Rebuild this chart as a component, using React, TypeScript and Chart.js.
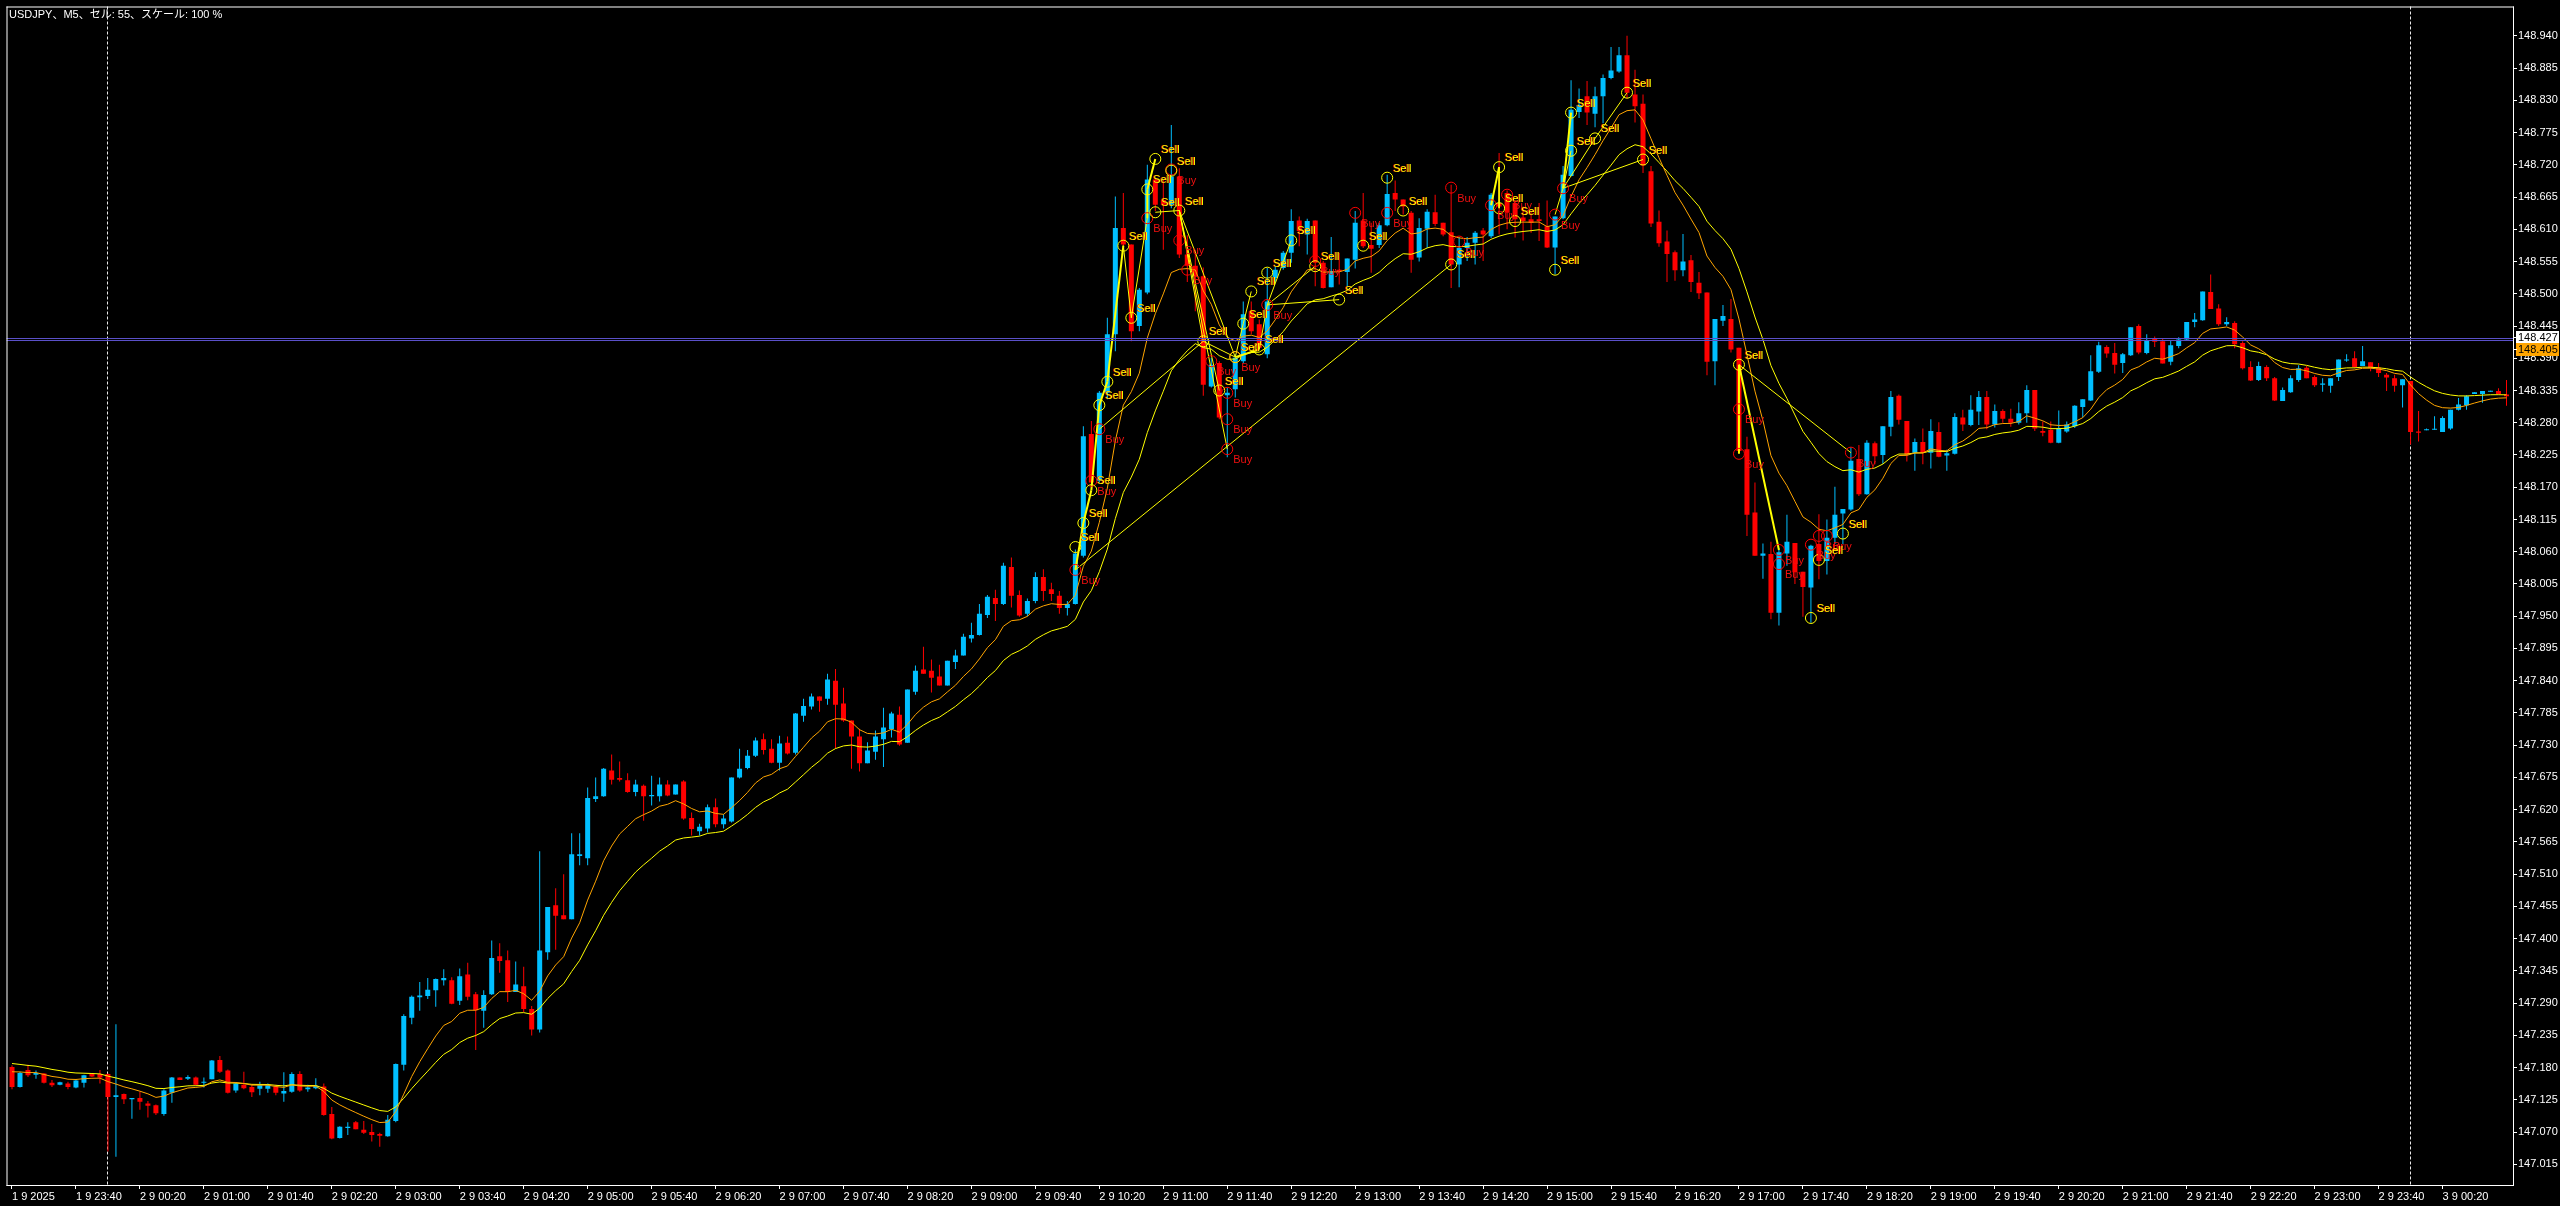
import { useEffect, useRef } from 'react';
import { Chart, registerables } from 'chart.js';

Chart.register(...registerables);

const W = 2560;
const H = 1206;
const TITLE = 'USDJPY、M5、セル: 55、スケール: 100 %';
const FONT = '"Liberation Sans", Arial, "Noto Sans CJK JP", sans-serif';

// M5 bars from 1 9 23:00 (bar 0) to 3 9 01:00 (bar 312)
const opens = [
  147.181,147.147,147.176,147.168,147.170,147.154,147.151,147.153,147.146,147.154,
  147.169,147.169,147.169,147.130,147.135,147.126,147.128,147.119,147.116,147.101,
  147.137,147.163,147.161,147.163,147.154,147.160,147.193,147.175,147.141,147.151,
  147.147,147.144,147.144,147.148,147.136,147.139,147.169,147.143,147.145,147.148,
  147.101,147.060,147.077,147.087,147.074,147.070,147.067,147.063,147.089,147.185,
  147.265,147.300,147.302,147.312,147.329,147.329,147.294,147.339,147.305,147.277,
  147.305,147.370,147.363,147.309,147.319,147.280,147.245,147.377,147.457,147.440,
  147.433,147.541,147.537,147.638,147.643,147.687,147.674,147.670,147.650,147.661,
  147.643,147.643,147.663,147.646,147.668,147.606,147.583,147.588,147.624,147.595,
  147.600,147.675,147.691,147.712,147.740,147.724,147.700,147.734,147.717,147.780,
  147.796,147.813,147.809,147.840,147.801,147.772,147.745,147.699,147.719,147.740,
  147.757,147.782,147.734,147.821,147.859,147.857,147.847,147.832,147.872,147.883,
  147.912,147.918,147.952,147.981,147.971,148.034,147.986,147.954,147.976,148.017,
  147.996,147.985,147.964,147.971,148.053,148.261,148.181,148.331,148.431,148.612,
  148.584,148.445,148.502,148.695,148.660,148.652,148.700,148.567,148.548,148.530,
  148.342,148.382,148.327,148.337,148.385,148.470,148.448,148.397,148.527,148.544,
  148.570,148.625,148.601,148.625,148.553,148.511,148.541,148.537,148.558,148.625,
  148.583,148.583,148.617,148.672,148.661,148.638,148.562,148.611,148.639,148.621,
  148.605,148.550,148.578,148.587,148.608,148.598,148.655,148.672,148.655,148.630,
  148.627,148.627,148.615,148.579,148.629,148.701,148.810,148.837,148.807,148.837,
  148.868,148.879,148.907,148.840,148.824,148.709,148.623,148.589,148.571,148.540,
  148.557,148.519,148.502,148.385,148.454,148.457,148.408,148.235,148.127,148.053,
  148.056,147.956,148.057,148.075,148.026,147.999,148.073,148.044,148.084,148.125,
  148.132,148.218,148.158,148.245,148.225,148.273,148.326,148.283,148.229,148.247,
  148.229,148.264,148.224,148.227,148.289,148.276,148.299,148.324,148.277,148.300,
  148.287,148.280,148.296,148.336,148.266,148.268,148.246,148.265,148.274,148.307,
  148.318,148.367,148.409,148.399,148.382,148.395,148.445,148.399,148.423,148.419,
  148.384,148.411,148.422,148.452,148.455,148.503,148.475,148.448,148.450,148.416,
  148.375,148.353,148.375,148.356,148.317,148.332,148.353,148.374,148.358,148.345,
  148.343,148.358,148.386,148.390,148.377,148.383,148.374,148.362,148.356,148.344,
  148.351,148.265,148.267,148.268,148.264,148.270,148.302,148.310,148.329,148.329,
  148.333,148.334,148.328,
];

const highs = [
  147.184,147.173,147.185,147.175,147.171,147.159,147.156,147.156,147.160,147.168,
  147.170,147.176,147.170,147.254,147.136,147.128,147.139,147.123,147.117,147.143,
  147.164,147.163,147.167,147.165,147.163,147.193,147.200,147.177,147.154,147.173,
  147.151,147.156,147.153,147.151,147.172,147.172,147.174,147.151,147.162,147.153,
  147.113,147.080,147.087,147.089,147.089,147.084,147.069,147.099,147.187,147.271,
  147.303,147.326,147.333,147.332,147.348,147.334,147.349,147.359,147.309,147.312,
  147.397,147.392,147.380,147.361,147.352,147.285,147.549,147.454,147.486,147.510,
  147.580,147.580,147.658,147.675,147.691,147.714,147.702,147.682,147.671,147.663,
  147.678,147.675,147.670,147.663,147.670,147.615,147.596,147.629,147.639,147.612,
  147.675,147.724,147.722,147.743,147.750,147.740,147.746,147.745,147.785,147.809,
  147.818,147.813,147.852,147.860,147.828,147.772,147.758,147.735,147.755,147.794,
  147.787,147.796,147.825,147.866,147.898,147.876,147.867,147.874,147.893,147.920,
  147.939,147.971,147.986,147.995,148.041,148.050,147.994,147.980,148.025,148.030,
  148.007,147.993,147.976,148.064,148.274,148.283,148.334,148.459,148.666,148.672,
  148.584,148.510,148.720,148.697,148.694,148.788,148.714,148.600,148.575,148.545,
  148.391,148.385,148.340,148.397,148.487,148.487,148.456,148.544,148.547,148.573,
  148.644,148.632,148.628,148.625,148.556,148.597,148.570,148.560,148.641,148.672,
  148.621,148.621,148.703,148.693,148.661,148.641,148.629,148.644,148.669,148.621,
  148.686,148.597,148.597,148.607,148.612,148.672,148.740,148.676,148.660,148.649,
  148.641,148.655,148.659,148.632,148.718,148.864,148.850,148.863,148.853,148.874,
  148.921,148.921,148.940,148.882,148.840,148.718,148.642,148.608,148.574,148.602,
  148.566,148.537,148.502,148.457,148.481,148.491,148.408,148.256,148.178,148.074,
  148.077,148.066,148.123,148.075,148.026,148.072,148.124,148.115,148.171,148.133,
  148.238,148.242,148.250,148.248,148.274,148.334,148.328,148.283,148.253,148.270,
  148.286,148.281,148.234,148.296,148.302,148.327,148.334,148.334,148.311,148.303,
  148.304,148.315,148.344,148.336,148.282,148.282,148.301,148.282,148.310,148.320,
  148.395,148.418,148.412,148.416,148.399,148.443,148.448,148.431,148.427,148.424,
  148.421,148.426,148.452,148.467,148.504,148.533,148.482,148.460,148.453,148.419,
  148.385,148.384,148.378,148.358,148.340,148.361,148.378,148.377,148.361,148.356,
  148.356,148.388,148.397,148.402,148.411,148.383,148.382,148.365,148.362,148.354,
  148.351,148.300,148.270,148.291,148.291,148.302,148.322,148.327,148.332,148.334,
  148.334,148.339,148.353,
];

const lows = [
  147.143,147.146,147.164,147.161,147.153,147.147,147.150,147.143,147.145,147.146,
  147.164,147.153,147.037,147.028,147.118,147.093,147.108,147.095,147.099,147.098,
  147.120,147.159,147.159,147.150,147.146,147.160,147.171,147.136,147.137,147.143,
  147.130,147.133,147.137,147.133,147.122,147.137,147.139,147.139,147.143,147.098,
  147.058,147.059,147.065,147.075,147.067,147.054,147.045,147.062,147.087,147.175,
  147.254,147.277,147.297,147.284,147.320,147.288,147.287,147.295,147.210,147.248,
  147.304,147.342,147.292,147.309,147.275,147.235,147.240,147.364,147.381,147.433,
  147.433,147.525,147.525,147.633,147.642,147.663,147.668,147.649,147.643,147.601,
  147.627,147.634,147.643,147.646,147.603,147.576,147.576,147.581,147.590,147.588,
  147.598,147.673,147.689,147.710,147.714,147.699,147.687,147.714,147.714,147.770,
  147.791,147.787,147.799,147.724,147.770,147.690,147.685,147.699,147.705,147.693,
  147.743,147.729,147.734,147.816,147.852,147.820,147.832,147.832,147.860,147.883,
  147.905,147.917,147.947,147.942,147.969,147.965,147.949,147.950,147.972,147.976,
  147.976,147.954,147.951,147.970,148.050,148.175,148.178,148.320,148.402,148.581,
  148.419,148.436,148.499,148.641,148.575,148.646,148.561,148.520,148.470,148.326,
  148.340,148.286,148.221,148.323,148.382,148.431,148.405,148.390,148.520,148.541,
  148.553,148.581,148.567,148.513,148.509,148.511,148.516,148.513,148.543,148.578,
  148.536,148.578,148.615,148.641,148.635,148.536,148.555,148.578,148.615,148.598,
  148.510,148.511,148.556,148.550,148.556,148.595,148.601,148.610,148.596,148.591,
  148.604,148.590,148.578,148.533,148.627,148.700,148.800,148.788,148.784,148.791,
  148.866,148.877,148.833,148.792,148.706,148.614,148.580,148.520,148.522,148.530,
  148.503,148.491,148.361,148.344,148.445,148.400,148.230,148.087,148.053,148.014,
  147.945,147.934,148.036,148.005,147.949,147.939,148.013,148.021,148.073,148.073,
  148.130,148.155,148.157,148.209,148.210,148.257,148.277,148.214,148.198,148.209,
  148.202,148.221,148.198,148.226,148.266,148.274,148.276,148.269,148.272,148.280,
  148.273,148.277,148.280,148.266,148.257,148.245,148.245,148.263,148.271,148.289,
  148.317,148.365,148.391,148.364,148.365,148.394,148.397,148.397,148.409,148.381,
  148.378,148.407,148.421,148.443,148.454,148.474,148.445,148.445,148.407,148.371,
  148.351,148.351,148.351,148.317,148.317,148.331,148.350,148.356,148.341,148.333,
  148.331,148.351,148.384,148.373,148.377,148.368,148.358,148.334,148.333,148.306,
  148.243,148.248,148.267,148.268,148.264,148.268,148.301,148.302,148.329,148.314,
  148.333,148.328,148.309,
];

const closes = [
  147.147,147.171,147.167,147.171,147.154,147.150,147.155,147.147,147.158,147.167,
  147.165,147.163,147.130,147.133,147.126,147.128,147.122,147.115,147.102,147.141,
  147.163,147.159,147.164,147.151,147.155,147.192,147.173,147.137,147.153,147.145,
  147.138,147.150,147.150,147.137,147.140,147.169,147.141,147.146,147.149,147.099,
  147.059,147.079,147.079,147.075,147.069,147.065,147.064,147.091,147.186,147.268,
  147.301,147.303,147.313,147.331,147.333,147.289,147.336,147.301,147.278,147.304,
  147.367,147.362,147.309,147.322,147.280,147.245,147.380,147.454,147.439,147.433,
  147.544,147.544,147.640,147.643,147.690,147.671,147.671,147.650,147.663,147.643,
  147.645,147.663,147.644,147.663,147.605,147.587,147.591,147.624,147.595,147.605,
  147.675,147.690,147.712,147.738,147.722,147.700,147.733,147.716,147.784,147.797,
  147.813,147.806,147.842,147.799,147.772,147.745,147.699,147.721,147.745,147.760,
  147.784,147.731,147.825,147.857,147.852,147.845,147.832,147.874,147.883,147.915,
  147.918,147.954,147.983,147.971,148.036,147.985,147.951,147.976,148.017,147.993,
  147.988,147.964,147.971,148.057,148.257,148.178,148.331,148.431,148.612,148.584,
  148.436,148.507,148.695,148.652,148.652,148.700,148.567,148.548,148.530,148.345,
  148.379,148.289,148.331,148.391,148.465,148.436,148.408,148.487,148.541,148.570,
  148.624,148.607,148.624,148.553,148.510,148.539,148.538,148.560,148.621,148.581,
  148.577,148.617,148.670,148.661,148.649,148.558,148.612,148.640,148.619,148.601,
  148.550,148.578,148.587,148.604,148.601,148.669,148.649,148.638,148.627,148.624,
  148.621,148.624,148.579,148.632,148.703,148.814,148.822,148.809,148.837,148.868,
  148.881,148.907,148.843,148.820,148.719,148.620,148.586,148.568,148.540,148.555,
  148.520,148.501,148.384,148.457,148.462,148.405,148.232,148.123,148.053,148.057,
  147.956,148.059,148.077,148.025,148.000,148.070,148.044,148.084,148.123,148.133,
  148.215,148.158,148.246,148.223,148.274,148.324,148.285,148.226,148.247,148.229,
  148.266,148.222,148.228,148.290,148.277,148.302,148.324,148.277,148.300,148.287,
  148.280,148.296,148.336,148.270,148.263,148.246,148.270,148.277,148.309,148.320,
  148.368,148.412,148.398,148.379,148.397,148.443,148.400,148.421,148.418,148.381,
  148.412,148.422,148.452,148.456,148.504,148.474,148.448,148.452,148.414,148.373,
  148.352,148.377,148.356,148.318,148.336,148.356,148.373,148.356,148.344,148.347,
  148.356,148.388,148.387,148.375,148.385,148.374,148.365,148.357,148.343,148.354,
  148.264,148.263,148.269,148.269,148.288,148.302,148.311,148.325,148.332,148.334,
  148.334,148.329,148.325,
];

const xTickBars = [
  0, 8, 16, 24, 32, 40, 48, 56, 64, 72, 80, 88, 96, 104, 112, 120, 128, 136, 144, 152,
  160, 168, 176, 184, 192, 200, 208, 216, 224, 232, 240, 248, 256, 264, 272, 280, 288, 296, 304,
];
const xTickLabels = [
  '1 9 2025', '1 9 23:40', '2 9 00:20', '2 9 01:00', '2 9 01:40', '2 9 02:20', '2 9 03:00',
  '2 9 03:40', '2 9 04:20', '2 9 05:00', '2 9 05:40', '2 9 06:20', '2 9 07:00', '2 9 07:40',
  '2 9 08:20', '2 9 09:00', '2 9 09:40', '2 9 10:20', '2 9 11:00', '2 9 11:40', '2 9 12:20',
  '2 9 13:00', '2 9 13:40', '2 9 14:20', '2 9 15:00', '2 9 15:40', '2 9 16:20', '2 9 17:00',
  '2 9 17:40', '2 9 18:20', '2 9 19:00', '2 9 19:40', '2 9 20:20', '2 9 21:00', '2 9 21:40',
  '2 9 22:20', '2 9 23:00', '2 9 23:40', '3 9 00:20',
];

const priceTicks = [
  148.940, 148.885, 148.830, 148.775, 148.720, 148.665, 148.610, 148.555, 148.500, 148.445,
  148.390, 148.335, 148.280, 148.225, 148.170, 148.115, 148.060, 148.005, 147.950, 147.895,
  147.840, 147.785, 147.730, 147.675, 147.620, 147.565, 147.510, 147.455, 147.400, 147.345,
  147.290, 147.235, 147.180, 147.125, 147.070, 147.015,
];

const priceMin = 146.9798;
const priceMax = 148.99;
const barMin = -0.6875;
const barMax = 312.8125;

const sepBars = [12, 300];
const hLinePrice = 148.427;
const askPrice = 148.405;

// moving averages (exponential, seeded with the values shown at bar 0)
const fastPeriod = 10;
const slowPeriod = 20;
const fastSeed = 147.173;
const slowSeed = 147.187;

// Sell / Buy signal marks
const sigBars = [
  133, 133, 134, 135, 135, 136, 136, 137, 139, 140, 142, 142, 143, 143, 145, 145, 146, 146, 147, 149,
  150, 151, 152, 152, 152, 153, 153, 154, 155, 156, 157, 157, 160,
  163, 163, 166, 168, 169, 172, 172, 174, 180, 180, 181, 185, 186, 186, 187, 188, 193, 193, 194,
  195, 195, 198, 202, 204, 216, 216, 216, 221, 221,
  225, 225, 226, 227, 226, 229, 230,
];
const sigPrices = [
  148.068, 148.029, 148.109, 148.165, 148.181, 148.310, 148.269, 148.350, 148.582, 148.459,
  148.678, 148.629, 148.730, 148.639, 148.710, 148.712, 148.642, 148.591, 148.541, 148.419,
  148.385, 148.335, 148.331, 148.286, 148.235, 148.392, 148.392, 148.449, 148.504, 148.405,
  148.481, 148.536, 148.591,
  148.547, 148.556, 148.490, 148.638, 148.582, 148.638, 148.698, 148.642, 148.681, 148.550,
  148.589, 148.651, 148.716, 148.646, 148.669, 148.624, 148.635, 148.541, 148.680,
  148.809, 148.744, 148.765, 148.843, 148.729, 148.379, 148.303, 148.227, 148.063, 148.039,
  148.072, 147.947, 148.087, 148.087, 148.046, 148.091, 148.229,
];
const sigKinds = [
  'S', 'B', 'S', 'S', 'B', 'S', 'B', 'S', 'S', 'S', 'S', 'B', 'S', 'S', 'S', 'B', 'S', 'B', 'B', 'S',
  'B', 'S', 'B', 'B', 'B', 'S', 'B', 'S', 'S', 'S', 'B', 'S', 'S',
  'S', 'B', 'S', 'B', 'S', 'B', 'S', 'S', 'B', 'S', 'B', 'B', 'S', 'S', 'B', 'S', 'B', 'S', 'B',
  'S', 'S', 'S', 'S', 'S', 'S', 'B', 'B', 'B', 'B',
  'B', 'S', 'B', 'B', 'S', 'S', 'B',
];

// signal connecting lines: [fromBar, fromPrice, toBar, toPrice, width]
const sigLines: [number, number, number, number, number][] = [
  [133, 148.029, 180, 148.550, 1],
  [136, 148.269, 149, 148.419, 1],
  [133, 148.029, 134, 148.109, 2],
  [134, 148.109, 135, 148.165, 2],
  [135, 148.165, 136, 148.310, 2],
  [136, 148.310, 137, 148.350, 2],
  [137, 148.350, 139, 148.582, 2],
  [139, 148.582, 140, 148.459, 1],
  [140, 148.459, 142, 148.629, 1],
  [142, 148.629, 142, 148.678, 2],
  [142, 148.678, 143, 148.730, 2],
  [143, 148.639, 146, 148.642, 1],
  [146, 148.642, 149, 148.419, 1],
  [146, 148.642, 151, 148.335, 1],
  [146, 148.642, 153, 148.392, 1],
  [146, 148.642, 152, 148.235, 1],
  [149, 148.419, 153, 148.392, 1],
  [153, 148.392, 156, 148.405, 2],
  [153, 148.392, 154, 148.449, 1],
  [154, 148.449, 155, 148.504, 1],
  [156, 148.405, 157, 148.481, 1],
  [157, 148.481, 160, 148.591, 1],
  [157, 148.481, 163, 148.547, 1],
  [157, 148.481, 166, 148.490, 1],
  [185, 148.651, 186, 148.716, 2],
  [186, 148.716, 186, 148.646, 1],
  [193, 148.635, 194, 148.680, 1],
  [194, 148.680, 195, 148.809, 2],
  [194, 148.680, 195, 148.744, 1],
  [194, 148.680, 198, 148.765, 1],
  [198, 148.765, 202, 148.843, 1],
  [194, 148.680, 204, 148.729, 1],
  [216, 148.379, 216, 148.227, 2],
  [216, 148.379, 221, 148.063, 2],
  [216, 148.379, 230, 148.229, 1],
];

const BLUE = '#00BFFF';
const RED = '#FF0000';
const YELLOW = '#FFFF00';
const ORANGE = '#FFA500';

function ema(seed: number, period: number) {
  const k = 2 / (period + 1);
  let e = seed;
  return closes.map((c, i) => {
    if (i > 0) e = e + k * (c - e);
    return { x: i, y: e };
  });
}

export default function App() {
  const ref = useRef<HTMLCanvasElement | null>(null);

  useEffect(() => {
    document.body.style.margin = '0';
    document.body.style.background = '#000';
    const canvas = ref.current;
    if (!canvas) return;

    const colors = closes.map((c, i) => (c >= opens[i] ? BLUE : RED));

    const overlay = {
      id: 'overlay',
      beforeDraw(chart: any) {
        const ctx = chart.ctx;
        ctx.save();
        ctx.fillStyle = '#000';
        ctx.fillRect(0, 0, chart.width, chart.height);
        ctx.restore();
      },
      beforeDatasetsDraw(chart: any) {
        const { ctx, chartArea } = chart;
        const xs = chart.scales.x;
        ctx.save();
        ctx.strokeStyle = '#E8E8E8';
        ctx.lineWidth = 1;
        ctx.setLineDash([3, 2]);
        sepBars.forEach((b) => {
          const px = Math.floor(xs.getPixelForValue(b)) + 0.5;
          ctx.beginPath();
          ctx.moveTo(px, chartArea.top);
          ctx.lineTo(px, chartArea.bottom);
          ctx.stroke();
        });
        ctx.restore();
      },
      afterDatasetsDraw(chart: any) {
        const { ctx, chartArea } = chart;
        const xs = chart.scales.x;
        const ys = chart.scales.y;
        ctx.save();
        // horizontal level line
        const hy = Math.round(ys.getPixelForValue(hLinePrice));
        ctx.fillStyle = '#5A50C8';
        ctx.fillRect(chartArea.left, hy + 1, chartArea.right - chartArea.left, 1);
        ctx.fillRect(chartArea.left, hy + 3, chartArea.right - chartArea.left, 1);

        // signal texts
        ctx.font = `11px ${FONT}`;
        ctx.textBaseline = 'middle';
        ctx.textAlign = 'left';
        sigBars.forEach((b, i) => {
          const px = xs.getPixelForValue(b);
          const py = ys.getPixelForValue(sigPrices[i]);
          if (sigKinds[i] === 'S') {
            ctx.fillStyle = '#E02000';
            ctx.fillText('Sell', px + 5, py - 9);
            ctx.fillStyle = YELLOW;
            ctx.fillText('Sell', px + 6, py - 9);
          } else {
            ctx.fillStyle = '#F01010';
            ctx.fillText('Buy', px + 6, py + 11);
          }
        });

        // frame
        ctx.fillStyle = '#FFFFFF';
        ctx.fillRect(chartArea.left, chartArea.top, chartArea.right - chartArea.left + 1, 1);
        ctx.fillRect(chartArea.left, chartArea.top, 1, chartArea.bottom - chartArea.top + 1);
        ctx.fillRect(chartArea.right, chartArea.top, 1, chartArea.bottom - chartArea.top + 1);
        ctx.fillRect(chartArea.left, chartArea.bottom, chartArea.right - chartArea.left + 1, 1);

        // title
        ctx.font = `11px ${FONT}`;
        ctx.fillStyle = '#FFFFFF';
        ctx.fillText(TITLE, 9, 15);
        ctx.restore();
      },
      afterDraw(chart: any) {
        const { ctx, chartArea } = chart;
        const ys = chart.scales.y;
        ctx.save();
        ctx.font = `11px ${FONT}`;
        ctx.textBaseline = 'middle';
        ctx.textAlign = 'left';
        const boxes: [number, string][] = [
          [hLinePrice, '#FFFFFF'],
          [askPrice, ORANGE],
        ];
        boxes.forEach(([p, col]) => {
          const py = Math.round(ys.getPixelForValue(p));
          ctx.fillStyle = col;
          ctx.fillRect(chartArea.right + 3, py - 6, 43, 13);
          ctx.fillStyle = '#FFFFFF';
          ctx.fillRect(chartArea.right, py, 4, 1);
          ctx.fillStyle = '#000000';
          ctx.fillText(p.toFixed(3), chartArea.right + 5, py + 1);
        });
        ctx.restore();
      },
    };

    const lineSets = sigLines.map(([b0, p0, b1, p1, w]) => ({
      type: 'line' as const,
      data: [
        { x: b0, y: p0 },
        { x: b1, y: p1 },
      ],
      borderColor: YELLOW,
      borderWidth: w,
      pointRadius: 0,
      tension: 0,
      order: 3,
    }));

    const sellPts = sigBars
      .map((b, i) => ({ x: b, y: sigPrices[i], k: sigKinds[i] }))
      .filter((d) => d.k === 'S')
      .map((d) => ({ x: d.x, y: d.y }));
    const buyPts = sigBars
      .map((b, i) => ({ x: b, y: sigPrices[i], k: sigKinds[i] }))
      .filter((d) => d.k === 'B')
      .map((d) => ({ x: d.x, y: d.y }));

    const chart = new Chart(canvas, {
      type: 'bar',
      data: {
        datasets: [
          {
            type: 'bar',
            data: highs.map((h, i) => ({ x: i, y: [lows[i], h] })) as any,
            backgroundColor: colors,
            borderWidth: 0,
            barThickness: 1,
            minBarLength: 1,
            grouped: false,
            inflateAmount: 0,
            order: 10,
          } as any,
          {
            type: 'bar',
            data: opens.map((o, i) => ({
              x: i,
              y: [Math.min(o, closes[i]), Math.max(o, closes[i])],
            })) as any,
            backgroundColor: colors,
            borderWidth: 0,
            barThickness: 5,
            minBarLength: 1,
            grouped: false,
            inflateAmount: 0,
            order: 9,
          } as any,
          {
            type: 'line',
            data: ema(slowSeed, slowPeriod),
            borderColor: YELLOW,
            borderWidth: 1,
            pointRadius: 0,
            tension: 0,
            order: 5,
          },
          {
            type: 'line',
            data: ema(fastSeed, fastPeriod),
            borderColor: ORANGE,
            borderWidth: 1,
            pointRadius: 0,
            tension: 0,
            order: 4,
          },
          ...lineSets,
          {
            type: 'scatter',
            data: sellPts,
            pointRadius: 5.5,
            pointBorderWidth: 1,
            pointBorderColor: YELLOW,
            pointBackgroundColor: 'rgba(0,0,0,0)',
            showLine: false,
            order: 1,
          } as any,
          {
            type: 'scatter',
            data: buyPts,
            pointRadius: 5.5,
            pointBorderWidth: 1,
            pointBorderColor: RED,
            pointBackgroundColor: 'rgba(0,0,0,0)',
            showLine: false,
            order: 2,
          } as any,
        ],
      },
      options: {
        responsive: false,
        animation: false,
        devicePixelRatio: 1,
        events: [],
        layout: { padding: { left: 5, top: 5, right: 0, bottom: 0 } },
        plugins: { legend: { display: false }, tooltip: { enabled: false } },
        scales: {
          x: {
            type: 'linear',
            position: 'bottom',
            min: barMin,
            max: barMax,
            offset: false,
            grid: {
              display: true,
              drawOnChartArea: false,
              drawTicks: true,
              tickLength: 4,
              color: '#FFFFFF',
              offset: false,
            },
            border: { display: false },
            ticks: {
              color: '#FFFFFF',
              font: { family: FONT, size: 11 },
              padding: 1,
              align: 'start',
              maxRotation: 0,
              minRotation: 0,
              autoSkip: false,
              callback: (v: any) => {
                const k = xTickBars.indexOf(Number(v));
                return k >= 0 ? xTickLabels[k] : '';
              },
            },
            afterBuildTicks: (s: any) => {
              s.ticks = xTickBars.map((v) => ({ value: v }));
            },
            afterFit: (s: any) => {
              s.height = 21;
              s.paddingLeft = 0;
              s.paddingRight = 0;
            },
          } as any,
          y: {
            type: 'linear',
            position: 'right',
            min: priceMin,
            max: priceMax,
            beginAtZero: false,
            grid: {
              display: true,
              drawOnChartArea: false,
              drawTicks: true,
              tickLength: 4,
              color: '#FFFFFF',
            },
            border: { display: false },
            ticks: {
              color: '#FFFFFF',
              font: { family: FONT, size: 11 },
              padding: 1,
              autoSkip: false,
              callback: (v: any) => Number(v).toFixed(3),
            },
            afterBuildTicks: (s: any) => {
              s.ticks = priceTicks.map((v) => ({ value: v }));
            },
            afterFit: (s: any) => {
              s.width = 47;
              s.paddingTop = 0;
              s.paddingBottom = 0;
            },
          } as any,
        },
      },
      plugins: [overlay],
    });

    return () => chart.destroy();
  }, []);

  return (
    <div style={{ width: W, height: H, background: '#000', position: 'relative' }}>
      <canvas ref={ref} width={W} height={H} style={{ width: W, height: H, display: 'block' }} />
    </div>
  );
}
